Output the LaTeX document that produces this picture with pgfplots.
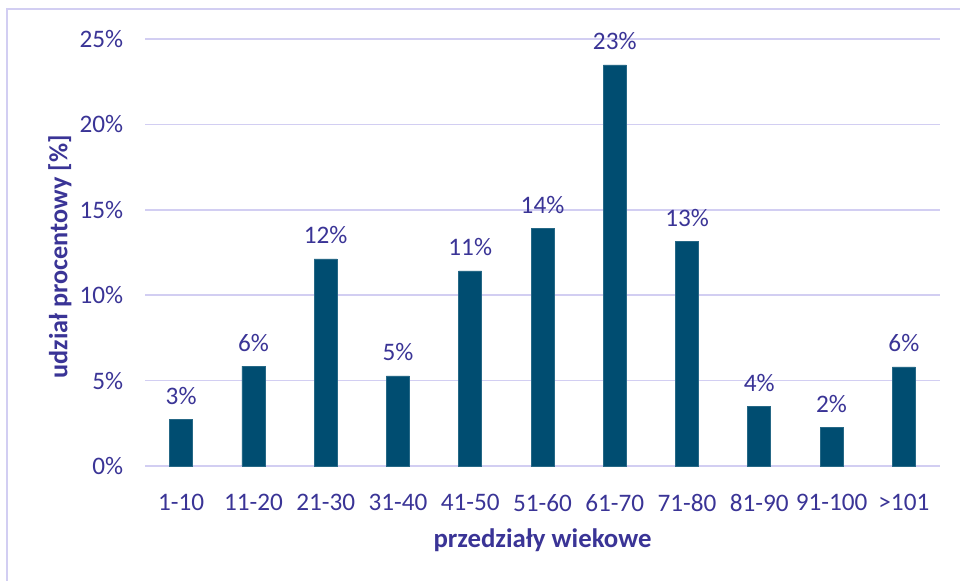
\documentclass[border=0pt]{standalone}
\usepackage{pgfplots}
\pgfplotsset{compat=1.18}
\usepackage{fontspec}
\setmainfont{Carlito}
\definecolor{bartxt}{RGB}{58,52,150}
\definecolor{barfill}{RGB}{0,77,113}
\definecolor{gridc}{RGB}{210,206,242}
\begin{document}
\fontsize{12.6pt}{15pt}\selectfont
\begin{tikzpicture}
\useasboundingbox (0,0) rectangle (480pt,290.5pt);
\draw[gridc, line width=1pt] (3.5pt,0) -- (3.5pt,286pt) -- (481pt,286pt);
\begin{axis}[
  at={(72.5pt,57.5pt)}, anchor=south west,
  scale only axis, width=397.5pt, height=213.5pt,
  ybar, bar width=11.5pt,
  xmin=-0.5, xmax=10.5, ymin=0, ymax=25,
  enlargelimits=false, clip=false,
  xtick=data,
  xticklabels={1-10,11-20,21-30,31-40,41-50,51-60,61-70,71-80,81-90,91-100,>101},
  ytick={0,5,...,25},
  /pgf/number format/assume math mode=true,
  yticklabel={\pgfmathprintnumber{\tick}\%},
  axis line style={draw=none},
  major tick style={draw=none},
  ymajorgrids, grid style={gridc, line width=0.8pt},
  tick label style={font=\fontsize{12.6pt}{15pt}\selectfont, text=bartxt},
  xticklabel style={yshift=-5.5pt},
  yticklabel style={xshift=-6.5pt},
  xlabel={\textbf{przedziały wiekowe}},
  ylabel={\textbf{udział procentowy [\%]}},
  label style={text=bartxt},
  xlabel style={font=\fontsize{13.4pt}{16pt}\selectfont, at={(axis description cs:0.5,-0.173)}, anchor=center},
  ylabel style={font=\fontsize{13.1pt}{16pt}\selectfont, at={(axis description cs:-0.107,0.49)}, anchor=center, rotate=0},
  nodes near coords={\pgfmathprintnumber[fixed,precision=0]{\pgfplotspointmeta}\%},
  every node near coord/.append style={text=bartxt, font=\fontsize{12.6pt}{15pt}\selectfont, yshift=3pt},
]
\addplot[fill=barfill, draw=barfill!85!white] coordinates {
  (0,2.7) (1,5.85) (2,12.12) (3,5.27) (4,11.42) (5,13.93)
  (6,23.48) (7,13.17) (8,3.51) (9,2.28) (10,5.8)};
\end{axis}
\end{tikzpicture}
\end{document}
